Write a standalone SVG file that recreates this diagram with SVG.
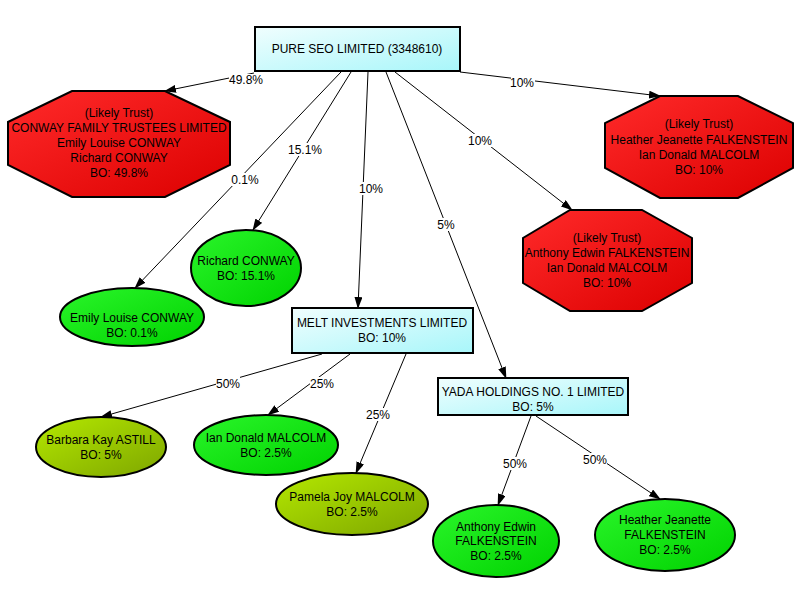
<svg xmlns="http://www.w3.org/2000/svg" width="800" height="600" viewBox="0 0 800 600">
<defs>
<linearGradient id="gBox" x1="0" y1="0" x2="1" y2="1"><stop offset="0" stop-color="#f0fefe"/><stop offset="1" stop-color="#a8f6fa"/></linearGradient>
<linearGradient id="gRed" x1="0" y1="0" x2="1" y2="1"><stop offset="0" stop-color="#ff2a2a"/><stop offset="1" stop-color="#dc0000"/></linearGradient>
<linearGradient id="gGreen" x1="0" y1="0" x2="1" y2="1"><stop offset="0" stop-color="#2af52a"/><stop offset="1" stop-color="#00d200"/></linearGradient>
<linearGradient id="gOlive" x1="0" y1="0" x2="1" y2="1"><stop offset="0" stop-color="#b4e800"/><stop offset="1" stop-color="#7ea600"/></linearGradient>
<marker id="arr" markerWidth="12" markerHeight="8" refX="11" refY="4" orient="auto" markerUnits="userSpaceOnUse"><path d="M0,0 L12,4 L0,8 z" fill="#000"/></marker>
</defs>
<style>
text{font-family:"Liberation Sans",Arial,sans-serif;font-size:12px;fill:#000;text-anchor:middle;dominant-baseline:central}
.box{fill:url(#gBox);stroke:#000;stroke-width:2}
.red{fill:url(#gRed);stroke:#000;stroke-width:2}
.green{fill:url(#gGreen);stroke:#000;stroke-width:2}
.olive{fill:url(#gOlive);stroke:#000;stroke-width:2}
.e{stroke:#000;stroke-width:1;fill:none;marker-end:url(#arr)}
.lbl{fill:#fff}
</style>
<rect width="800" height="600" fill="#fff"/>
<g id="connectors">
<line class="e" x1="254" y1="73" x2="165" y2="91"/>
<line class="e" x1="460" y1="72" x2="660" y2="96"/>
<line class="e" x1="341" y1="72" x2="135" y2="288"/>
<line class="e" x1="351" y1="72" x2="253" y2="230"/>
<line class="e" x1="368" y1="72" x2="358" y2="308"/>
<line class="e" x1="386" y1="72" x2="506" y2="378"/>
<line class="e" x1="395" y1="72" x2="572" y2="210"/>
<line class="e" x1="322" y1="354" x2="101" y2="417"/>
<line class="e" x1="350" y1="354" x2="268" y2="415"/>
<line class="e" x1="406" y1="354" x2="356" y2="473"/>
<line class="e" x1="531" y1="416" x2="498" y2="505"/>
<line class="e" x1="536" y1="416" x2="660" y2="499"/>
<rect class="lbl" x="229" y="74" width="34" height="13"/><text x="246" y="80">49.8%</text>
<rect class="lbl" x="511" y="77" width="24" height="13"/><text x="522" y="83">10%</text>
<rect class="lbl" x="231" y="173" width="28" height="13"/><text x="245" y="180">0.1%</text>
<rect class="lbl" x="288" y="143" width="34" height="13"/><text x="305" y="150">15.1%</text>
<rect class="lbl" x="359" y="182" width="24" height="13"/><text x="371" y="189">10%</text>
<rect class="lbl" x="438" y="218" width="18" height="13"/><text x="446" y="225">5%</text>
<rect class="lbl" x="468" y="134" width="24" height="13"/><text x="480" y="141">10%</text>
<rect class="lbl" x="216" y="377" width="24" height="13"/><text x="228" y="384">50%</text>
<rect class="lbl" x="310" y="377" width="24" height="13"/><text x="322" y="384">25%</text>
<rect class="lbl" x="366" y="408" width="24" height="13"/><text x="378" y="415">25%</text>
<rect class="lbl" x="503" y="457" width="24" height="13"/><text x="515" y="464">50%</text>
<rect class="lbl" x="583" y="453" width="24" height="13"/><text x="595" y="460">50%</text>
</g>
<g id="n-pure">
<rect class="box" x="255" y="27" width="205" height="44"/>
<text x="357" y="49">PURE SEO LIMITED (3348610)</text>
</g>
<g id="n-conway-trust">
<polygon class="red" points="72,91 165,91 230,122 230,165 165,197 72,197 8,165 8,122"/>
<text x="119" y="113">(Likely Trust)</text>
<text x="119" y="128">CONWAY FAMILY TRUSTEES LIMITED</text>
<text x="119" y="143">Emily Louise CONWAY</text>
<text x="119" y="158">Richard CONWAY</text>
<text x="119" y="173">BO: 49.8%</text>
</g>
<g id="n-heather-trust">
<polygon class="red" points="660,96 738,96 793,123 793,168 738,198 660,198 605,168 605,123"/>
<text x="699" y="124">(Likely Trust)</text>
<text x="699" y="140">Heather Jeanette FALKENSTEIN</text>
<text x="699" y="155">Ian Donald MALCOLM</text>
<text x="699" y="170">BO: 10%</text>
</g>
<g id="n-anthony-trust">
<polygon class="red" points="570,210 642,210 692,238 692,283 642,311 570,311 523,283 523,238"/>
<text x="607" y="238">(Likely Trust)</text>
<text x="607" y="253">Anthony Edwin FALKENSTEIN</text>
<text x="607" y="268">Ian Donald MALCOLM</text>
<text x="607" y="283">BO: 10%</text>
</g>
<g id="n-emily">
<ellipse class="green" cx="132" cy="317" rx="72" ry="29"/>
<text x="132" y="318">Emily Louise CONWAY</text>
<text x="132" y="333">BO: 0.1%</text>
</g>
<g id="n-richard">
<ellipse class="green" cx="246" cy="268" rx="55" ry="38"/>
<text x="246" y="261">Richard CONWAY</text>
<text x="246" y="276">BO: 15.1%</text>
</g>
<g id="n-melt">
<rect class="box" x="292" y="308" width="181" height="45"/>
<text x="382" y="323">MELT INVESTMENTS LIMITED</text>
<text x="382" y="338">BO: 10%</text>
</g>
<g id="n-yada">
<rect class="box" x="438" y="378" width="190" height="37"/>
<text x="533" y="392">YADA HOLDINGS NO. 1 LIMITED</text>
<text x="533" y="407">BO: 5%</text>
</g>
<g id="n-barbara">
<ellipse class="olive" cx="101" cy="447" rx="65" ry="30"/>
<text x="101" y="440">Barbara Kay ASTILL</text>
<text x="101" y="455">BO: 5%</text>
</g>
<g id="n-ian">
<ellipse class="green" cx="266" cy="445" rx="72" ry="30"/>
<text x="266" y="438">Ian Donald MALCOLM</text>
<text x="266" y="453">BO: 2.5%</text>
</g>
<g id="n-pamela">
<ellipse class="olive" cx="352" cy="504" rx="76" ry="31"/>
<text x="352" y="497">Pamela Joy MALCOLM</text>
<text x="352" y="512">BO: 2.5%</text>
</g>
<g id="n-anthony">
<ellipse class="green" cx="496" cy="541" rx="63" ry="36"/>
<text x="496" y="527">Anthony Edwin</text>
<text x="496" y="541">FALKENSTEIN</text>
<text x="496" y="556">BO: 2.5%</text>
</g>
<g id="n-heather">
<ellipse class="green" cx="665" cy="535" rx="70" ry="36"/>
<text x="665" y="520">Heather Jeanette</text>
<text x="665" y="535">FALKENSTEIN</text>
<text x="665" y="550">BO: 2.5%</text>
</g>
</svg>
